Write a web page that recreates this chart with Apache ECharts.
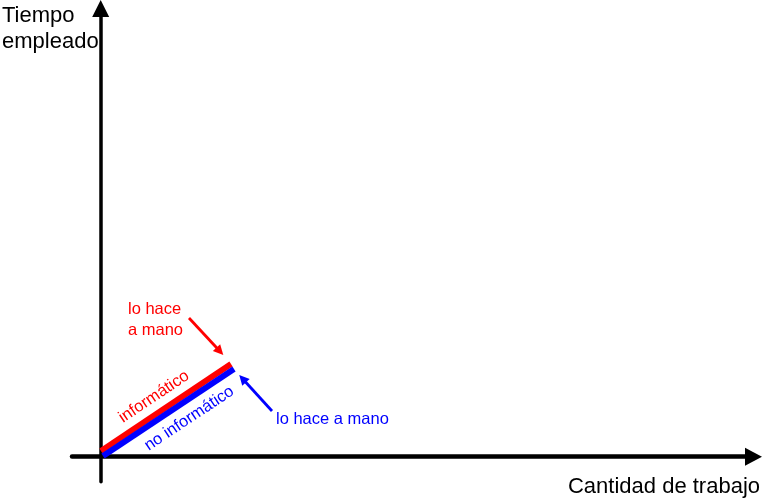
<!DOCTYPE html>
<html><head><meta charset="utf-8">
<script src="https://cdn.jsdelivr.net/npm/echarts@6/dist/echarts.min.js"></script>
<style>html,body{margin:0;padding:0;background:#fff}#c{width:764px;height:500px}</style>
</head><body><div id="c"></div>
<script>
// axis extents (arbitrary units of work / time)
const xRange = [-28.7, 652.8];
const yRange = [-25, 448.2];
// the two lines
const informatico = [[0.3, 5.7], [130.3, 92.7]];
const noInformatico = [[2.3, 0.7], [133.3, 87.7]];
// pointer arrows (tail -> head centre)
const arrowRed = [[88.3, 138.7], [119.2, 105.4]];
const arrowBlue = [[171.3, 45.7], [141.9, 78]];
// texts
const lineLabels = ['informático', 'no informático'];
const noteRed = 'lo hace\na mano';
const noteBlue = 'lo hace a mano';
const axisNames = ['Cantidad de trabajo', 'Tiempo\nempleado'];

const RED = '#ff0000', BLUE = '#0000ff';
const FONT = '"Liberation Sans", Arial, sans-serif';

const chart = echarts.init(document.getElementById('c'));
chart.setOption({
  animation: false,
  backgroundColor: '#fff',
  grid: { left: 72, right: 10.5, top: 8.5, bottom: 18.3 },
  xAxis: {
    type: 'value', min: xRange[0], max: xRange[1],
    splitLine: { show: false }, axisTick: { show: false }, axisLabel: { show: false },
    axisLine: { onZero: true, lineStyle: { color: '#000', width: 4.5 }, symbol: ['none', 'triangle'], symbolSize: [18, 17] }
  },
  yAxis: {
    type: 'value', min: yRange[0], max: yRange[1],
    splitLine: { show: false }, axisTick: { show: false }, axisLabel: { show: false },
    axisLine: { onZero: true, lineStyle: { color: '#000', width: 3.5 }, symbol: ['none', 'triangle'], symbolSize: [17, 17] }
  },
  series: [
    {
      type: 'lines', coordinateSystem: 'cartesian2d', polyline: false,
      symbol: 'none', silent: true,
      lineStyle: { width: 5.8, opacity: 1, curveness: 0 },
      data: [
        { coords: informatico, lineStyle: { color: RED },
          label: { show: true, position: 'insideMiddleTop', distance: 7, formatter: lineLabels[0],
                   color: RED, fontSize: 16.5, fontFamily: FONT, padding: [0, 8, 0, 0] } },
        { coords: noInformatico, lineStyle: { color: BLUE },
          label: { show: true, position: 'insideMiddleBottom', distance: 8, formatter: lineLabels[1],
                   color: BLUE, fontSize: 16.5, fontFamily: FONT, padding: [0, 0, 0, 28] } }
      ]
    },
    {
      type: 'lines', coordinateSystem: 'cartesian2d', polyline: false,
      symbol: ['none', 'triangle'], symbolSize: [9, 10], silent: true,
      lineStyle: { width: 2.8, opacity: 1, curveness: 0 },
      data: [
        { coords: arrowRed, lineStyle: { color: RED } },
        { coords: arrowBlue, lineStyle: { color: BLUE } }
      ]
    }
  ],
  graphic: [
    { type: 'text', left: 2, top: 3,
      style: { text: axisNames[1], fill: '#000', font: '22px ' + FONT, lineHeight: 26 } },
    { type: 'text', right: 4, top: 476,
      style: { text: axisNames[0], fill: '#000', font: '22px ' + FONT } },
    { type: 'text', left: 128, top: 299,
      style: { text: noteRed, fill: RED, font: '16.5px ' + FONT, lineHeight: 21 } },
    { type: 'text', left: 276, top: 411,
      style: { text: noteBlue, fill: BLUE, font: '16.5px ' + FONT } }
  ]
});
</script>
</body></html>
